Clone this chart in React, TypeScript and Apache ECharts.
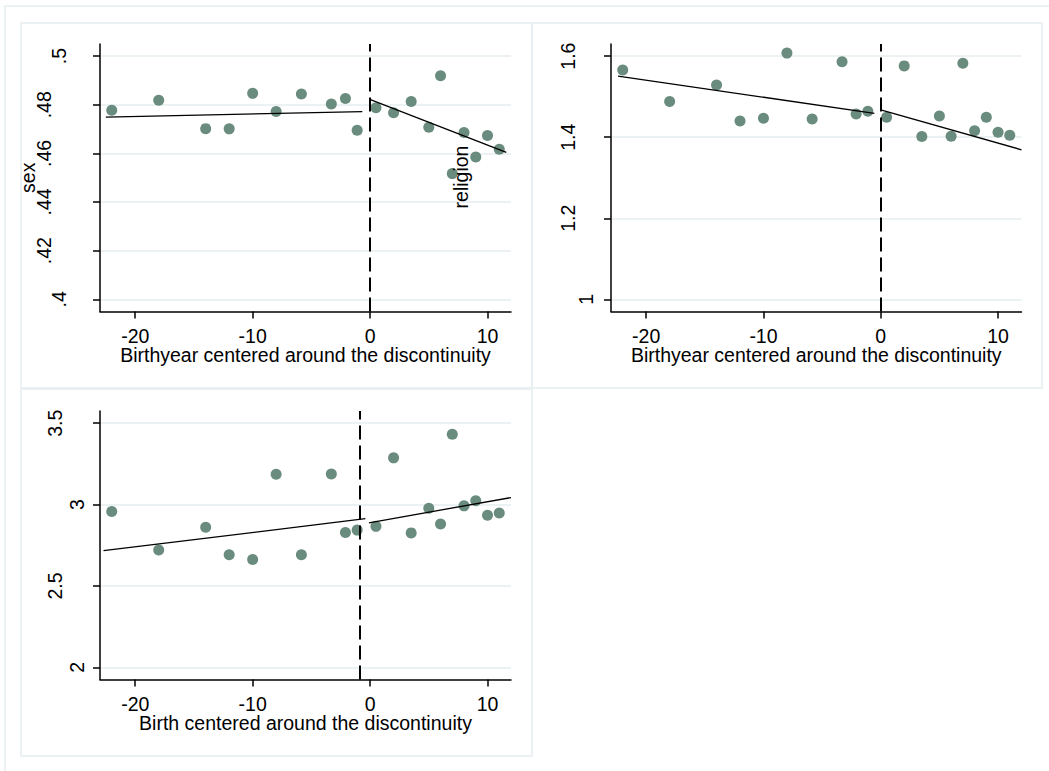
import React, { useEffect, useRef } from "react";
import * as echarts from "echarts";

// ---- data ----
const birthBins = [-22, -18, -14, -12, -10, -8, -5.85, -3.3, -2.1, -1.1, 0.5, 2, 3.5, 5, 6, 7, 8, 9, 10, 11];
const sexMeans = [0.4778, 0.4819, 0.4702, 0.4701, 0.4847, 0.4772, 0.4844, 0.4803, 0.4826, 0.4695, 0.4788, 0.4767, 0.4814, 0.4708, 0.4919, 0.4517, 0.4686, 0.4585, 0.4674, 0.4617];
const religionMeans = [1.566, 1.488, 1.529, 1.44, 1.447, 1.6075, 1.445, 1.586, 1.4575, 1.464, 1.449, 1.576, 1.402, 1.4525, 1.4025, 1.5825, 1.416, 1.449, 1.4125, 1.405];
const birthMeans = [2.957, 2.721, 2.86, 2.692, 2.663, 3.186, 2.692, 3.188, 2.829, 2.843, 2.866, 3.287, 2.826, 2.977, 2.88, 3.432, 2.992, 3.023, 2.934, 2.948];

const sexFitLeft = [[-22.5, 0.4749], [-0.66, 0.4772]];
const sexFitRight = [[0.03, 0.4821], [11.6, 0.4604]];
const religionFitLeft = [[-22.4, 1.5508], [-0.55, 1.459]];
const religionFitRight = [[0, 1.4675], [12, 1.369]];
const birthFitLeft = [[-22.7, 2.717], [-0.4, 2.913]];
const birthFitRight = [[-0.1, 2.888], [12, 3.043]];

const cutoffs = [0, 0, -0.9];

const xTicks = [-20, -10, 0, 10];
const sexTicks = [0.4, 0.42, 0.44, 0.46, 0.48, 0.5];
const religionTicks = [1, 1.2, 1.4, 1.6];
const birthTicks = [2, 2.5, 3, 3.5];

const xTitles = [
  "Birthyear centered around the discontinuity",
  "Birthyear centered around the discontinuity",
  "Birth centered around the discontinuity",
];
const yNames = ["sex", "", ""];
const strayLabel = "religion";

// ---- styling ----
const FONT = "'Liberation Sans', Arial, Helvetica, sans-serif";
const FS = 19.5;
const DOT = "#6a8c7e";
const GRID = "#e6eef1";
const FRAME = "#e6eef1";

const fmtSex = (v: number) => String(v).replace(/^0\./, ".");
const fmtPlain = (v: number) => String(v);

function makeXAxis(gridIndex: number, name: string) {
  return {
    type: "value",
    gridIndex,
    min: -23,
    max: 12,
    name,
    nameLocation: "middle",
    nameGap: 36,
    nameMoveOverlap: false,
    nameTextStyle: { fontFamily: FONT, fontSize: FS, lineHeight: 15, color: "#000" },
    axisLine: { show: true, onZero: false, lineStyle: { color: "#000", width: 1.5 } },
    axisTick: { show: true, customValues: xTicks, length: 7, lineStyle: { color: "#000", width: 1.5 } },
    axisLabel: {
      show: true,
      customValues: xTicks,
      margin: 17,
      fontFamily: FONT,
      fontSize: FS,
      lineHeight: 15,
      color: "#000",
    },
    splitLine: { show: false },
  };
}

function makeYAxis(
  gridIndex: number,
  min: number,
  max: number,
  ticks: number[],
  fmt: (v: number) => string,
  margin: number,
  padLong: number,
  name: string,
  nameGap: number
) {
  const maxLen = Math.max(...ticks.map((t) => fmt(t).length));
  const txt = { fontFamily: FONT, fontSize: FS, color: "#000" };
  return {
    type: "value",
    gridIndex,
    min,
    max,
    name,
    nameLocation: "middle",
    nameGap,
    nameMoveOverlap: false,
    nameTextStyle: { fontFamily: FONT, fontSize: FS, color: "#000" },
    axisLine: { show: true, onZero: false, lineStyle: { color: "#000", width: 1.5 } },
    axisTick: { show: true, customValues: ticks, length: 7, lineStyle: { color: "#000", width: 1.5 } },
    axisLabel: {
      show: true,
      customValues: ticks,
      rotate: 90,
      margin,
      ...txt,
      formatter: (v: number) => {
        const s = fmt(v);
        return s.length < maxLen ? `{s|${s}}` : `{l|${s}}`;
      },
      rich: {
        s: { ...txt },
        l: { ...txt, padding: [0, 0, padLong, 0] },
      },
    },
    splitLine: { show: true, lineStyle: { color: GRID, width: 1.5 } },
  };
}

function zip(xs: number[], ys: number[]) {
  return xs.map((x, i) => [x, ys[i]]);
}

function panelSeries(i: number, means: number[], left: number[][], right: number[][]) {
  const fit = (data: number[][]) => ({
    type: "line",
    xAxisIndex: i,
    yAxisIndex: i,
    data,
    symbol: "none",
    showSymbol: false,
    silent: true,
    z: 4,
    lineStyle: { color: "#000", width: 1.3 },
  });
  return [
    {
      type: "scatter",
      xAxisIndex: i,
      yAxisIndex: i,
      data: zip(birthBins, means),
      symbol: "circle",
      symbolSize: 11,
      itemStyle: { color: DOT, opacity: 1 },
      z: 3,
      markLine: {
        silent: true,
        symbol: ["none", "none"],
        label: { show: false },
        lineStyle: { color: "#000", width: 2, type: [14, 6] },
        data: [{ xAxis: cutoffs[i] }],
      },
    },
    fit(left),
    fit(right),
  ];
}

export default function App() {
  const ref = useRef<HTMLDivElement>(null);

  useEffect(() => {
    if (!ref.current) return;
    const chart = echarts.init(ref.current, undefined, { renderer: "svg" });
    const option: any = {
      animation: false,
      backgroundColor: "#fff",
      textStyle: { fontFamily: FONT },
      grid: [
        { left: 100, top: 44, width: 411, height: 267.5, containLabel: false, outerBoundsMode: "none" },
        { left: 611, top: 44, width: 410.5, height: 267.5, containLabel: false, outerBoundsMode: "none" },
        { left: 100, top: 411, width: 411, height: 268.5, containLabel: false, outerBoundsMode: "none" },
      ],
      xAxis: [makeXAxis(0, xTitles[0]), makeXAxis(1, xTitles[1]), makeXAxis(2, xTitles[2])],
      yAxis: [
        makeYAxis(0, 0.395, 0.505, sexTicks, fmtSex, 31, 15, yNames[0], 62),
        makeYAxis(1, 0.97, 1.63, religionTicks, fmtPlain, 15, 18.5, yNames[1], 60),
        makeYAxis(2, 1.925, 3.575, birthTicks, fmtPlain, 13, 22, yNames[2], 60),
      ],
      series: [
        ...panelSeries(0, sexMeans, sexFitLeft, sexFitRight),
        ...panelSeries(1, religionMeans, religionFitLeft, religionFitRight),
        ...panelSeries(2, birthMeans, birthFitLeft, birthFitRight),
      ],
      graphic: {
        elements: [
          {
            type: "polyline",
            silent: true,
            z: -10,
            shape: { points: [[5, 771], [5, 6], [1049, 6]] },
            style: { stroke: FRAME, lineWidth: 1.5, fill: "none" },
          },
          {
            type: "rect",
            silent: true,
            z: -10,
            shape: { x: 21, y: 23, width: 511, height: 365 },
            style: { stroke: FRAME, lineWidth: 1.5, fill: "none" },
          },
          {
            type: "rect",
            silent: true,
            z: -10,
            shape: { x: 532, y: 23, width: 510, height: 365 },
            style: { stroke: FRAME, lineWidth: 1.5, fill: "none" },
          },
          {
            type: "rect",
            silent: true,
            z: -10,
            shape: { x: 21, y: 389, width: 511, height: 367 },
            style: { stroke: FRAME, lineWidth: 1.5, fill: "none" },
          },
          {
            type: "text",
            silent: true,
            z: 10,
            x: 461,
            y: 177,
            rotation: Math.PI / 2,
            style: {
              text: strayLabel,
              fontFamily: FONT,
              fontSize: FS,
              fill: "#000",
              align: "center",
              verticalAlign: "middle",
            },
          },
        ],
      },
    };
    chart.setOption(option);
    return () => chart.dispose();
  }, []);

  return (
    <div
      ref={ref}
      style={{ position: "fixed", left: 0, top: 0, width: 1049, height: 771, background: "#fff" }}
    />
  );
}
